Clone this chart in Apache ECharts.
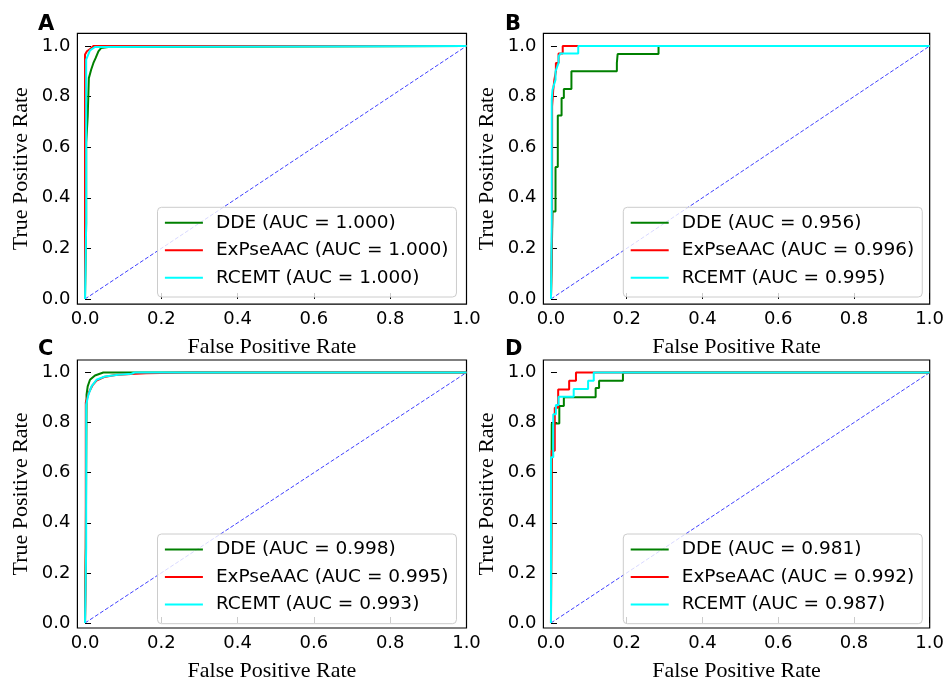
<!DOCTYPE html>
<html>
<head>
<meta charset="utf-8">
<script src="https://cdn.jsdelivr.net/npm/echarts@6/dist/echarts.min.js"></script>
<style>
html,body{margin:0;padding:0;background:#fff;}
#main{width:947px;height:683px;}
</style>
</head>
<body>
<div id="main"></div>
<script>
// panel letters, methods, AUC values
var panels = ['A', 'B', 'C', 'D'];
var methods = ['DDE', 'ExPseAAC', 'RCEMT'];
var aucA = ['1.000', '1.000', '1.000'];
var aucB = ['0.956', '0.996', '0.995'];
var aucC = ['0.998', '0.995', '0.993'];
var aucD = ['0.981', '0.992', '0.987'];
var ticks = [0, 0.2, 0.4, 0.6, 0.8, 1.0];
var diagX = [0, 1];
var diagY = [0, 1];

// panel A
var fprA_dde = [0, 0.003, 0.003, 0.007, 0.007, 0.010, 0.010, 0.016, 0.022, 0.028, 0.035, 0.042, 0.061, 0.114, 0.117, 1];
var tprA_dde = [0, 0.30, 0.617, 0.617, 0.722, 0.722, 0.873, 0.906, 0.933, 0.953, 0.979, 0.992, 0.996, 0.996, 1, 1];
var fprA_exp = [0, 0, 0.005, 0.015, 0.022, 1];
var tprA_exp = [0, 0.966, 0.979, 0.990, 1, 1];
var fprA_rce = [0, 0.003, 0.003, 0.013, 0.026, 0.031, 1];
var tprA_rce = [0, 0.30, 0.946, 0.983, 0.996, 1, 1];

// panel B
var fprB_dde = [0, 0.004, 0.004, 0.012, 0.012, 0.018, 0.018, 0.028, 0.028, 0.034, 0.034, 0.054, 0.054, 0.174, 0.174, 0.176, 0.176, 0.284, 0.284, 1];
var tprB_dde = [0, 0, 0.346, 0.346, 0.522, 0.522, 0.725, 0.725, 0.794, 0.794, 0.830, 0.830, 0.900, 0.900, 0.933, 0.933, 0.968, 0.968, 1, 1];
var fprB_exp = [0, 0.003, 0.003, 0.006, 0.009, 0.013, 0.013, 0.020, 0.020, 0.031, 0.031, 1];
var tprB_exp = [0, 0.30, 0.761, 0.827, 0.867, 0.900, 0.933, 0.933, 0.970, 0.970, 1, 1];
var fprB_rce = [0, 0.002, 0.002, 0.004, 0.012, 0.012, 0.020, 0.020, 0.025, 0.072, 0.072, 1];
var tprB_rce = [0, 0.30, 0.788, 0.827, 0.867, 0.900, 0.933, 0.959, 0.970, 0.970, 1, 1];

// panel C
var fprC_dde = [0, 0.002, 0.004, 0.007, 0.013, 0.026, 0.048, 1];
var tprC_dde = [0, 0.30, 0.912, 0.945, 0.971, 0.988, 1, 1];
var fprC_exp = [0, 0.002, 0.002, 0.010, 0.020, 0.030, 0.050, 0.080, 0.120, 0.160, 0.270, 1];
var tprC_exp = [0, 0.30, 0.880, 0.920, 0.950, 0.968, 0.982, 0.990, 0.994, 0.997, 1, 1];
var fprC_rce = [0, 0.003, 0.003, 0.009, 0.017, 0.030, 0.052, 0.087, 0.122, 0.130, 1];
var tprC_rce = [0, 0.30, 0.872, 0.912, 0.945, 0.971, 0.984, 0.991, 0.995, 1, 1];

// panel D
var fprD_dde = [0, 0.002, 0.002, 0.022, 0.022, 0.034, 0.034, 0.118, 0.118, 0.127, 0.127, 0.190, 0.190, 1];
var tprD_dde = [0, 0, 0.796, 0.796, 0.866, 0.866, 0.901, 0.901, 0.938, 0.938, 0.967, 0.967, 1, 1];
var fprD_exp = [0, 0.002, 0.002, 0.010, 0.010, 0.019, 0.019, 0.048, 0.048, 0.066, 0.066, 1];
var tprD_exp = [0, 0, 0.688, 0.688, 0.859, 0.859, 0.932, 0.932, 0.967, 0.967, 1, 1];
var fprD_rce = [0, 0, 0.006, 0.006, 0.013, 0.013, 0.020, 0.020, 0.060, 0.060, 0.098, 0.098, 0.113, 0.113, 1];
var tprD_rce = [0, 0.662, 0.662, 0.833, 0.833, 0.870, 0.870, 0.903, 0.903, 0.934, 0.934, 0.967, 0.967, 1, 1];

var curves = [
    [[fprA_dde, tprA_dde], [fprA_exp, tprA_exp], [fprA_rce, tprA_rce]],
    [[fprB_dde, tprB_dde], [fprB_exp, tprB_exp], [fprB_rce, tprB_rce]],
    [[fprC_dde, tprC_dde], [fprC_exp, tprC_exp], [fprC_rce, tprC_rce]],
    [[fprD_dde, tprD_dde], [fprD_exp, tprD_exp], [fprD_rce, tprD_rce]]
];
var aucs = [aucA, aucB, aucC, aucD];

function pts(xs, ys){
    var out = [];
    for(var i = 0; i < xs.length; i++){
        out.push([xs[i], ys[i]]);
    }
    return out;
}

var colors = ['#008000', '#ff0000', '#00ffff'];
var gridPos = [
    {left: 77.4, top: 33.35},
    {left: 543.4, top: 33.35},
    {left: 77.4, top: 360},
    {left: 543.4, top: 360}
];
var legendPos = [
    {left: 157.5, top: 207.3},
    {left: 623.3, top: 207.3},
    {left: 157.5, top: 534},
    {left: 623.3, top: 534}
];
var letterPos = [[38, 26], [505, 26], [38, 351], [505, 351]];

var grid = [], xAxis = [], yAxis = [], series = [], legend = [], graphic = [];

for(var p = 0; p < 4; p++){
    grid.push({
        left: gridPos[p].left,
        top: gridPos[p].top,
        width: 389.1,
        height: 270.7,
        show: true,
        borderColor: '#000',
        borderWidth: 1.2,
        backgroundColor: 'transparent'
    });
    xAxis.push({
        type: 'value',
        gridIndex: p,
        min: -0.02,
        max: 1.0,
        name: 'False Positive Rate',
        nameLocation: 'middle',
        nameGap: 32,
        nameTextStyle: {
            fontFamily: 'Liberation Serif',
            fontSize: 22,
            color: '#000'
        },
        axisLine: {show: false},
        splitLine: {show: false},
        axisTick: {
            show: true,
            inside: true,
            length: 6,
            customValues: ticks,
            lineStyle: {color: '#000', width: 1}
        },
        axisLabel: {
            customValues: ticks,
            margin: 6,
            fontFamily: 'DejaVu Sans',
            fontSize: 18,
            color: '#000',
            formatter: function(v){ return v.toFixed(1); }
        }
    });
    yAxis.push({
        type: 'value',
        gridIndex: p,
        min: -0.02,
        max: 1.05,
        name: 'True Positive Rate',
        nameLocation: 'middle',
        nameGap: 45,
        nameRotate: 90,
        nameTextStyle: {
            fontFamily: 'Liberation Serif',
            fontSize: 22,
            color: '#000'
        },
        axisLine: {show: false},
        splitLine: {show: false},
        axisTick: {
            show: true,
            inside: true,
            length: 6,
            customValues: ticks,
            lineStyle: {color: '#000', width: 1}
        },
        axisLabel: {
            customValues: ticks,
            margin: 7,
            fontFamily: 'DejaVu Sans',
            fontSize: 18,
            color: '#000',
            formatter: function(v){ return v.toFixed(1); }
        }
    });

    // diagonal reference line
    series.push({
        type: 'line',
        xAxisIndex: p,
        yAxisIndex: p,
        data: pts(diagX, diagY),
        showSymbol: false,
        silent: true,
        z: 1,
        lineStyle: {color: '#0000ff', width: 1, type: [4, 2], opacity: 0.75}
    });

    var names = [];
    for(var m = 0; m < 3; m++){
        var nm = methods[m] + ' (AUC = ' + aucs[p][m] + ')';
        names.push(nm);
        series.push({
            type: 'line',
            name: nm,
            xAxisIndex: p,
            yAxisIndex: p,
            data: pts(curves[p][m][0], curves[p][m][1]),
            showSymbol: false,
            color: colors[m],
            z: 2 + m,
            lineStyle: {color: colors[m], width: 2}
        });
    }

    legend.push({
        data: names,
        orient: 'vertical',
        left: legendPos[p].left,
        top: legendPos[p].top,
        icon: 'rect',
        itemWidth: 38,
        itemHeight: 2,
        itemGap: 7.5,
        padding: [5.5, 8, 9.2, 7.4],
        backgroundColor: 'rgba(255,255,255,0.8)',
        borderColor: '#cccccc',
        borderWidth: 1,
        borderRadius: 4,
        selectedMode: false,
        textStyle: {
            fontFamily: 'DejaVu Sans',
            fontSize: 18.5,
            lineHeight: 20,
            color: '#000',
            padding: [0, 0, 0, 8]
        }
    });

    graphic.push({
        type: 'text',
        left: letterPos[p][0],
        top: letterPos[p][1] - 12,
        style: {
            text: panels[p],
            font: 'bold 21px "DejaVu Sans"',
            fill: '#000'
        }
    });
}

var option = {
    animation: false,
    backgroundColor: '#fff',
    grid: grid,
    xAxis: xAxis,
    yAxis: yAxis,
    legend: legend,
    graphic: graphic,
    series: series
};

var dom = document.getElementById('main');
var myChart = echarts.init(dom, null, {renderer: 'canvas'});
myChart.setOption(option, true);
</script>
</body>
</html>
